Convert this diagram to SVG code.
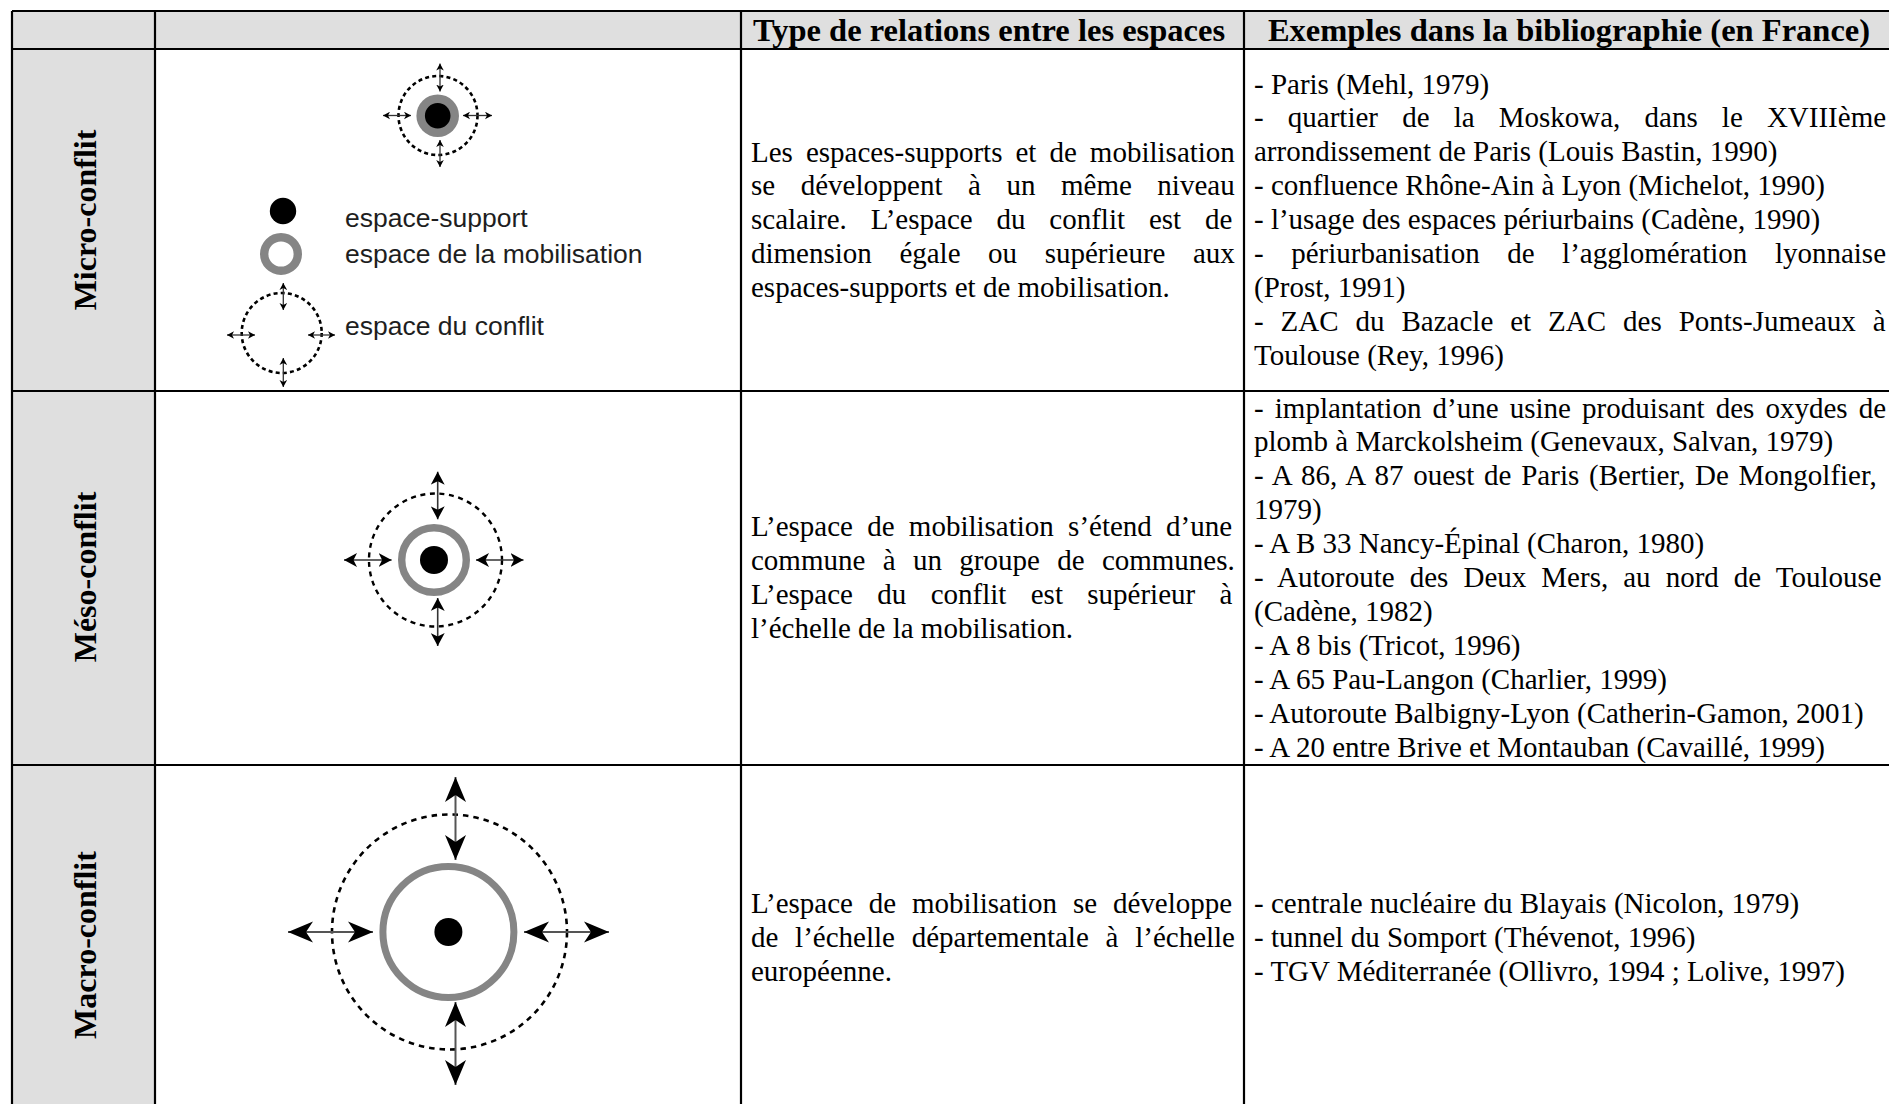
<svg xmlns="http://www.w3.org/2000/svg" width="1889" height="1104" viewBox="0 0 1889 1104">
<style>
.grid{stroke:#000;stroke-width:2.2;fill:none}
.shade{fill:#dfdfdf}
.hd{font-family:"Liberation Serif","Times New Roman",serif;font-weight:bold;font-size:32.5px;fill:#000}
.lab{font-family:"Liberation Serif","Times New Roman",serif;font-weight:bold;font-size:32px;fill:#000}
.tx{font-family:"Liberation Serif","Times New Roman",serif;font-size:29px;fill:#000}
.lg{font-family:"Liberation Sans",Arial,sans-serif;font-size:26.5px;fill:#1e1e1e}
.dot{fill:#000}
.ring{fill:none;stroke:#858585}
.dash{fill:none;stroke:#000}
.shS{stroke:#333;stroke-width:1.3;fill:none;marker-start:url(#hS);marker-end:url(#hS)}
.shM{stroke:#333;stroke-width:1.6;fill:none;marker-start:url(#hM);marker-end:url(#hM)}
.shL{stroke:#555;stroke-width:2;fill:none;marker-start:url(#hL);marker-end:url(#hL)}
</style>
<defs>
<marker id="hS" viewBox="-7 -4 7 8" refX="0" refY="0" markerWidth="7" markerHeight="8" markerUnits="userSpaceOnUse" orient="auto-start-reverse"><path d="M0,0 L-7,-3.8 L-5,0 L-7,3.8 Z" fill="#000"/></marker>
<marker id="hM" viewBox="-13 -7 13 14" refX="0" refY="0" markerWidth="13" markerHeight="14" markerUnits="userSpaceOnUse" orient="auto-start-reverse"><path d="M0,0 L-13,-7 L-9.5,0 L-13,7 Z" fill="#000"/></marker>
<marker id="hL" viewBox="-25 -11 25 22" refX="0" refY="0" markerWidth="25" markerHeight="22" markerUnits="userSpaceOnUse" orient="auto-start-reverse"><path d="M0,0 L-25,-10.5 L-18,0 L-25,10.5 Z" fill="#000"/></marker>
</defs>
<rect width="1889" height="1104" fill="#fff"/>
<g id="table">
<rect class="shade" x="12" y="11" width="1882" height="38"/>
<rect class="shade" x="12" y="49" width="143" height="1065"/>
<path class="grid" d="M12,11 H1894 M12,49 H1894 M12,391 H1894 M12,765 H1894 M12,11 V1110 M155,11 V1110 M741,11 V1110 M1244,11 V1110 M1894,11 V1110"/>
</g>
<g id="header">
<text class="hd" x="989" y="41" text-anchor="middle">Type de relations entre les espaces</text>
<text class="hd" x="1569" y="41" text-anchor="middle">Exemples dans la bibliographie (en France)</text>
</g>
<g id="row-micro">
<text class="lab" transform="translate(96,220) rotate(-90)" text-anchor="middle">Micro-conflit</text>
<g id="micro-symbol">
<circle class="dash" cx="438" cy="115.5" r="39.5" stroke-width="2.6" stroke-dasharray="4 3.2"/>
<circle cx="437.7" cy="115.7" r="21.3" fill="#858585"/>
<circle class="dot" cx="437.7" cy="115.7" r="12.8"/>
</g>
<g id="legend">
<circle class="dot" cx="283" cy="211" r="13.2"/>
<circle class="ring" cx="281" cy="254" r="16.8" stroke-width="8.4"/>
<circle class="dash" cx="281.7" cy="333" r="40" stroke-width="2.6" stroke-dasharray="4 3.2"/>
<text class="lg" x="345" y="226.7">espace-support</text>
<text class="lg" x="345" y="263.3">espace de la mobilisation</text>
<text class="lg" x="345" y="335">espace du conflit</text>
</g>
<g id="micro-relations" class="tx">
<text x="751" y="161.5" style="word-spacing:5.8px">Les espaces-supports et de mobilisation</text>
<text x="751" y="195.4" style="word-spacing:18.3px">se développent à un même niveau</text>
<text x="751" y="229.3" style="word-spacing:16.6px">scalaire. L’espace du conflit est de</text>
<text x="751" y="263.2" style="word-spacing:20.3px">dimension égale ou supérieure aux</text>
<text x="751" y="297.1">espaces-supports et de mobilisation.</text>
</g>
<g id="micro-examples" class="tx">
<text x="1254" y="93.5">- Paris (Mehl, 1979)</text>
<text x="1254" y="127.4" style="word-spacing:16.9px">- quartier de la Moskowa, dans le XVIIIème</text>
<text x="1254" y="161.3">arrondissement de Paris (Louis Bastin, 1990)</text>
<text x="1254" y="195.2">- confluence Rhône-Ain à Lyon (Michelot, 1990)</text>
<text x="1254" y="229.1">- l’usage des espaces périurbains (Cadène, 1990)</text>
<text x="1254" y="263" style="word-spacing:20.3px">- périurbanisation de l’agglomération lyonnaise</text>
<text x="1254" y="296.9">(Prost, 1991)</text>
<text x="1254" y="330.8" style="word-spacing:9.7px">- ZAC du Bazacle et ZAC des Ponts-Jumeaux à</text>
<text x="1254" y="364.7">Toulouse (Rey, 1996)</text>
</g>
</g>
<g id="row-meso">
<text class="lab" transform="translate(96,577) rotate(-90)" text-anchor="middle">Méso-conflit</text>
<g id="meso-symbol">
<circle class="dash" cx="435.5" cy="560" r="66.5" stroke-width="2.4" stroke-dasharray="5 4.6"/>
<circle class="ring" cx="434" cy="560" r="32.3" stroke-width="7.4"/>
<circle class="dot" cx="434" cy="560" r="14"/>
</g>
<g id="meso-relations" class="tx">
<text x="751" y="536.2" style="word-spacing:7px">L’espace de mobilisation s’étend d’une</text>
<text x="751" y="570.1" style="word-spacing:10.1px">commune à un groupe de communes.</text>
<text x="751" y="604" style="word-spacing:17.1px">L’espace du conflit est supérieur à</text>
<text x="751" y="637.9">l’échelle de la mobilisation.</text>
</g>
<g id="meso-examples" class="tx">
<text x="1254" y="417.5" style="word-spacing:3.9px">- implantation d’une usine produisant des oxydes de</text>
<text x="1254" y="451.4">plomb à Marckolsheim (Genevaux, Salvan, 1979)</text>
<text x="1254" y="485.3" style="word-spacing:2.5px">- A 86, A 87 ouest de Paris (Bertier, De Mongolfier,</text>
<text x="1254" y="519.2">1979)</text>
<text x="1254" y="553.1">- A B 33 Nancy-Épinal (Charon, 1980)</text>
<text x="1254" y="587" style="word-spacing:7.8px">- Autoroute des Deux Mers, au nord de Toulouse</text>
<text x="1254" y="620.9">(Cadène, 1982)</text>
<text x="1254" y="654.8">- A 8 bis (Tricot, 1996)</text>
<text x="1254" y="688.7">- A 65 Pau-Langon (Charlier, 1999)</text>
<text x="1254" y="722.6">- Autoroute Balbigny-Lyon (Catherin-Gamon, 2001)</text>
<text x="1254" y="756.5">- A 20 entre Brive et Montauban (Cavaillé, 1999)</text>
</g>
</g>
<g id="row-macro">
<text class="lab" transform="translate(96,945) rotate(-90)" text-anchor="middle">Macro-conflit</text>
<g id="macro-symbol">
<circle class="dash" cx="449.5" cy="932" r="117.5" stroke-width="2.6" stroke-dasharray="5.5 5"/>
<circle class="ring" cx="448.4" cy="932" r="65.5" stroke-width="7"/>
<circle class="dot" cx="448.4" cy="932" r="14"/>
</g>
<g id="macro-relations" class="tx">
<text x="751" y="913" style="word-spacing:8.6px">L’espace de mobilisation se développe</text>
<text x="751" y="946.9" style="word-spacing:9.5px">de l’échelle départementale à l’échelle</text>
<text x="751" y="980.8">européenne.</text>
</g>
<g id="macro-examples" class="tx">
<text x="1254" y="913">- centrale nucléaire du Blayais (Nicolon, 1979)</text>
<text x="1254" y="946.9">- tunnel du Somport (Thévenot, 1996)</text>
<text x="1254" y="980.8">- TGV Méditerranée (Ollivro, 1994 ; Lolive, 1997)</text>
</g>
</g>
<g id="connectors">
<line class="shS" x1="440" y1="63.5" x2="440" y2="91.5"/>
<line class="shS" x1="440" y1="140" x2="440" y2="167"/>
<line class="shS" x1="383" y1="115.5" x2="411" y2="115.5"/>
<line class="shS" x1="463" y1="115.5" x2="492" y2="115.5"/>
<line class="shS" x1="283.3" y1="283" x2="283.3" y2="310"/>
<line class="shS" x1="283.3" y1="358" x2="283.3" y2="387"/>
<line class="shS" x1="227" y1="335" x2="255" y2="335"/>
<line class="shS" x1="308" y1="335" x2="335" y2="335"/>
<line class="shM" x1="437.7" y1="471.7" x2="437.7" y2="519.3"/>
<line class="shM" x1="437.7" y1="598" x2="437.7" y2="646"/>
<line class="shM" x1="344" y1="560" x2="391.6" y2="560"/>
<line class="shM" x1="476" y1="560" x2="523.5" y2="560"/>
<line class="shL" x1="455.5" y1="777" x2="455.5" y2="860"/>
<line class="shL" x1="455.5" y1="1002" x2="455.5" y2="1085"/>
<line class="shL" x1="288" y1="932" x2="373" y2="932"/>
<line class="shL" x1="524" y1="932" x2="609" y2="932"/>
</g>
</svg>
